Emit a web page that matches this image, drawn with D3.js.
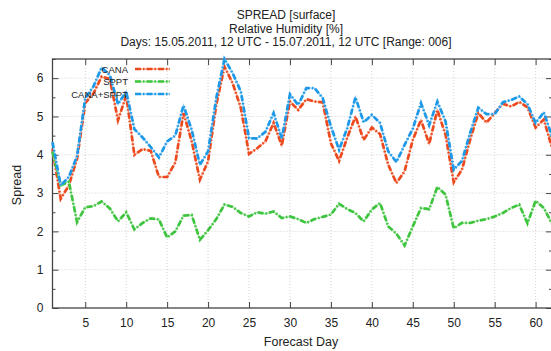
<!DOCTYPE html>
<html>
<head>
<meta charset="utf-8">
<script src="https://cdn.jsdelivr.net/npm/d3@7"></script>
<style>
    body { margin: 0; background: #fff; overflow: hidden; }
    svg { display: block; font-family: "Liberation Sans", Arial, sans-serif; }
</style>
</head>
<body>
<div id="chart"></div>
<script>
// Spread per forecast day, one value per day 1..62
var days = d3.range(1, 63);
var cana = [4.15, 2.85, 3.2, 3.9, 5.35, 5.6, 6.04, 5.98, 4.9, 5.55,
    4.0, 4.15, 4.1, 3.42, 3.42, 3.8, 5.09, 4.35, 3.35, 3.83,
    5.3, 6.3, 5.87, 5.22, 4.02, 4.17, 4.35, 4.83, 4.24, 5.39,
    5.17, 5.45, 5.39, 5.37, 4.3, 3.84, 4.45, 5.0, 4.39, 4.71,
    4.54, 3.74, 3.26, 3.57, 4.39, 4.91, 4.28, 5.17, 4.52, 3.28,
    3.61, 4.39, 5.09, 4.84, 5.09, 5.33, 5.26, 5.38, 5.24, 4.71,
    4.92, 4.18];
var sppt = [4.08, 3.2, 3.3, 2.24, 2.63, 2.66, 2.78, 2.6, 2.26, 2.5,
    2.05, 2.22, 2.34, 2.31, 1.84, 2.0, 2.41, 2.43, 1.78, 2.03,
    2.32, 2.7, 2.64, 2.48, 2.39, 2.5, 2.46, 2.52, 2.35, 2.39,
    2.32, 2.22, 2.32, 2.38, 2.44, 2.72, 2.58, 2.48, 2.26, 2.57,
    2.74, 2.13, 1.94, 1.63, 2.13, 2.61, 2.58, 3.16, 2.96, 2.08,
    2.22, 2.22, 2.28, 2.32, 2.39, 2.48, 2.61, 2.7, 2.21, 2.8,
    2.61, 2.2];
var canaSppt = [4.33, 3.2, 3.42, 3.97, 5.48, 5.78, 6.28, 6.08, 5.32, 5.65,
    4.67, 4.45, 4.2, 3.93, 4.35, 4.5, 5.29, 4.65, 3.74, 4.09,
    5.48, 6.5, 6.13, 5.65, 4.43, 4.43, 4.6, 5.09, 4.43, 5.58,
    5.3, 5.74, 5.74, 5.48, 4.74, 4.13, 4.7, 5.5, 4.85, 5.04,
    4.83, 4.09, 3.81, 4.26, 4.68, 5.35, 4.77, 5.39, 4.87, 3.61,
    3.84, 4.57, 5.23, 5.06, 5.06, 5.37, 5.43, 5.52, 5.32, 4.83,
    5.11, 4.48];

var xTicks = [5, 10, 15, 20, 25, 30, 35, 40, 45, 50, 55, 60];
var yTicks = [0, 1, 2, 3, 4, 5, 6];
var yMinorTicks = [0.5, 1.5, 2.5, 3.5, 4.5, 5.5, 6.5];

var series = [
    { name: "CANA", values: cana, color: "#ec4a1e", light: "#f6a58c" },
    { name: "SPPT", values: sppt, color: "#3ec43e", light: "#9fe29f" },
    { name: "CANA+SPPT", values: canaSppt, color: "#1c98e8", light: "#8ecbf3" }
];

var titleLines = [
    "SPREAD [surface]",
    "Relative Humidity [%]",
    "Days: 15.05.2011, 12 UTC - 15.07.2011, 12 UTC [Range: 006]"
];

var width = 551, height = 351;
var margin = { top: 59, right: -1, bottom: 43, left: 52.5 };
var innerWidth = width - margin.left - margin.right;
var innerHeight = height - margin.top - margin.bottom;

var svg = d3.select("#chart").append("svg")
    .attr("width", width)
    .attr("height", height);

var x = d3.scaleLinear().domain([1, 62]).range([0, innerWidth]);
var y = d3.scaleLinear().domain([0, 6.5]).range([innerHeight, 0]);

// Title block
svg.append("g")
    .selectAll("text")
    .data(titleLines)
    .join("text")
    .attr("x", 286)
    .attr("y", (d, i) => 19 + i * 13.5)
    .attr("text-anchor", "middle")
    .attr("font-size", 12)
    .attr("fill", "#222")
    .text(d => d);

var g = svg.append("g")
    .attr("transform", `translate(${margin.left}, ${margin.top})`);

// Dotted grid lines
g.append("g")
    .selectAll("line")
    .data(xTicks)
    .join("line")
    .attr("x1", d => x(d)).attr("x2", d => x(d))
    .attr("y1", 0).attr("y2", innerHeight)
    .attr("stroke", "#c8c8c8")
    .attr("stroke-width", 0.8)
    .attr("stroke-dasharray", "1,2");

g.append("g")
    .selectAll("line")
    .data(yTicks.filter(d => d > 0))
    .join("line")
    .attr("x1", 0).attr("x2", innerWidth)
    .attr("y1", d => y(d)).attr("y2", d => y(d))
    .attr("stroke", "#c8c8c8")
    .attr("stroke-width", 0.8)
    .attr("stroke-dasharray", "1,2");

// Axes, with mirrored ticks on top and right
var xAxis = g.append("g")
    .attr("transform", `translate(0, ${innerHeight})`)
    .call(d3.axisBottom(x).tickValues(xTicks).tickSizeInner(-6).tickSizeOuter(0).tickPadding(10));
var xAxisTop = g.append("g")
    .call(d3.axisTop(x).tickValues(xTicks).tickSizeInner(-6).tickSizeOuter(0));
var yAxis = g.append("g")
    .call(d3.axisLeft(y).tickValues(yTicks).tickFormat(d3.format("d")).tickSizeInner(-6).tickSizeOuter(0).tickPadding(9));
var yAxisRight = g.append("g")
    .attr("transform", `translate(${innerWidth}, 0)`)
    .call(d3.axisRight(y).tickValues(yTicks).tickSizeInner(-6).tickSizeOuter(0));
var yMinor = g.append("g")
    .call(d3.axisLeft(y).tickValues(yMinorTicks).tickSizeInner(-3).tickSizeOuter(0));
var yMinorRight = g.append("g")
    .attr("transform", `translate(${innerWidth}, 0)`)
    .call(d3.axisRight(y).tickValues(yMinorTicks).tickSizeInner(-3).tickSizeOuter(0));

// mirrored and minor ticks carry no labels
[xAxisTop, yAxisRight, yMinor, yMinorRight].forEach(a => a.selectAll("text").remove());

[xAxis, xAxisTop, yAxis, yAxisRight, yMinor, yMinorRight].forEach(function (a) {
    a.select(".domain").remove();
    a.selectAll("line").attr("stroke", "#444").attr("stroke-width", 1);
    a.selectAll("text")
        .attr("font-size", 12)
        .attr("fill", "#222")
        .attr("font-family", "Liberation Sans, Arial, sans-serif");
});

// Plot frame
g.append("rect")
    .attr("width", innerWidth)
    .attr("height", innerHeight)
    .attr("fill", "none")
    .attr("stroke", "#444")
    .attr("stroke-width", 1.3);

// Axis labels
svg.append("text")
    .attr("x", 301)
    .attr("y", 346)
    .attr("text-anchor", "middle")
    .attr("font-size", 12.5)
    .attr("fill", "#222")
    .text("Forecast Day");

svg.append("text")
    .attr("transform", "rotate(-90)")
    .attr("x", -185)
    .attr("y", 21)
    .attr("text-anchor", "middle")
    .attr("font-size", 12.5)
    .attr("fill", "#222")
    .text("Spread");

// Series lines: a soft solid line under a dash-dot stroke
var line = d3.line()
    .x((d, i) => x(days[i]))
    .y(d => y(d));

var plot = g.append("g");
series.forEach(function (s) {
    plot.append("path")
        .datum(s.values)
        .attr("fill", "none")
        .attr("stroke", s.light)
        .attr("stroke-width", 1.4)
        .attr("d", line);
    plot.append("path")
        .datum(s.values)
        .attr("fill", "none")
        .attr("stroke", s.color)
        .attr("stroke-width", 2.7)
        .attr("stroke-dasharray", "6,2,1.5,2")
        .attr("d", line);
});

// Legend in the upper left corner
var legend = svg.append("g");
series.forEach(function (s, i) {
    var ly = 69 + i * 12.5;
    legend.append("text")
        .attr("x", 128)
        .attr("y", ly + 3.5)
        .attr("text-anchor", "end")
        .attr("font-size", 9.5)
        .attr("fill", "#222")
        .text(s.name);
    legend.append("line")
        .attr("x1", 135).attr("x2", 170)
        .attr("y1", ly).attr("y2", ly)
        .attr("stroke", s.light)
        .attr("stroke-width", 1.4);
    legend.append("line")
        .attr("x1", 135).attr("x2", 170)
        .attr("y1", ly).attr("y2", ly)
        .attr("stroke", s.color)
        .attr("stroke-width", 2.7)
        .attr("stroke-dasharray", "6,2,1.5,2");
});
</script>
</body>
</html>
